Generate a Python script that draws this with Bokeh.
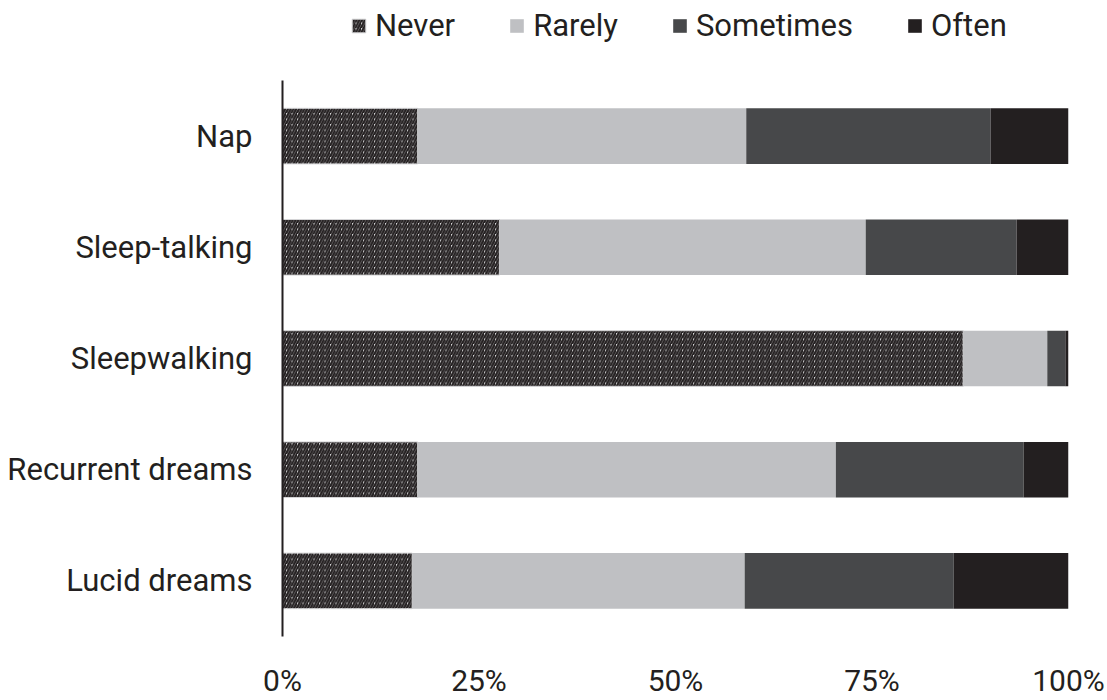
from bokeh.plotting import figure
from bokeh.layouts import column
from bokeh.models import FactorRange, Range1d, FixedTicker, ColumnDataSource, Legend, LegendItem
from bokeh.embed import file_html
from bokeh.resources import INLINE

categories = ["Nap", "Sleep-talking", "Sleepwalking", "Recurrent dreams", "Lucid dreams"]
series = ["Never", "Rarely", "Sometimes", "Often"]
never = [17.2, 27.6, 86.6, 17.2, 16.5]
rarely = [41.8, 46.6, 10.7, 53.2, 42.3]
sometimes = [31.1, 19.2, 2.3, 23.9, 26.6]
often = [9.9, 6.6, 0.4, 5.7, 14.6]
tick_values = [0, 25, 50, 75, 100]
tick_labels = ["0%", "25%", "50%", "75%", "100%"]

colors = ["#dcdcde", "#bfc0c3", "#47484a", "#231f20"]
text_color = "#231f20"

bar_style = dict(fill_color=colors,
                 line_color=["#d4d4d6", None, None, None],
                 line_width=1,
                 hatch_pattern=["/", " ", " ", " "],
                 hatch_color=text_color,
                 hatch_scale=5.5, hatch_weight=2.2)

source = ColumnDataSource(dict(cat=categories, Never=never, Rarely=rarely,
                               Sometimes=sometimes, Often=often))

# ---- legend strip (separate figure; its helper bars are never drawn) ----
lf = figure(width=1107, height=80, output_backend="svg", toolbar_location=None,
            x_range=Range1d(0, 1), y_range=Range1d(0, 1), min_border=0)
lf.axis.visible = False
lf.grid.visible = False
lf.outline_line_color = None
nan = float("nan")
legend_src = ColumnDataSource(dict(y=[-1000.0], Never=[nan], Rarely=[nan],
                                   Sometimes=[nan], Often=[nan]))
lrend = lf.hbar_stack(series, y="y", height=0.0, source=legend_src, **bar_style)
legend = Legend(items=[LegendItem(label=s, renderers=[r]) for s, r in zip(series, lrend)],
                orientation="horizontal", location=(68, 36),
                label_text_font="Roboto",
                label_text_font_size="31px", label_text_color=text_color,
                glyph_width=17, glyph_height=17, spacing=53, label_standoff=8,
                border_line_color=None, background_fill_alpha=0, padding=0, margin=0)
lf.add_layout(legend)

# ---- main chart ----
p = figure(width=1107, height=620, output_backend="svg", toolbar_location=None,
           y_range=FactorRange(factors=list(reversed(categories)), range_padding=0),
           x_range=Range1d(0, 100))
p.min_border_left = 282
p.min_border_right = 39
p.min_border_top = 0
p.min_border_bottom = 55
p.outline_line_color = None
p.xgrid.visible = False
p.ygrid.visible = False

p.hbar_stack(series, y="cat", height=0.5, source=source, **bar_style)

p.xaxis.ticker = FixedTicker(ticks=tick_values)
p.xaxis.major_label_overrides = {v: l for v, l in zip(tick_values, tick_labels)}
p.xaxis.axis_line_color = None
p.xaxis.major_tick_line_color = None
p.xaxis.minor_tick_line_color = None
p.xaxis.major_label_standoff = 20
p.xaxis.major_label_text_font = "Roboto"
p.xaxis.major_label_text_font_size = "30px"
p.xaxis.major_label_text_color = text_color

p.yaxis.axis_line_color = text_color
p.yaxis.axis_line_width = 2
p.yaxis.major_tick_line_color = None
p.yaxis.minor_tick_line_color = None
p.yaxis.major_label_standoff = 24
p.yaxis.major_label_text_font = "Roboto"
p.yaxis.major_label_text_font_size = "31px"
p.yaxis.major_label_text_color = text_color

layout = column(lf, p, spacing=0)
open("out.html", "w").write(file_html(layout, INLINE))
